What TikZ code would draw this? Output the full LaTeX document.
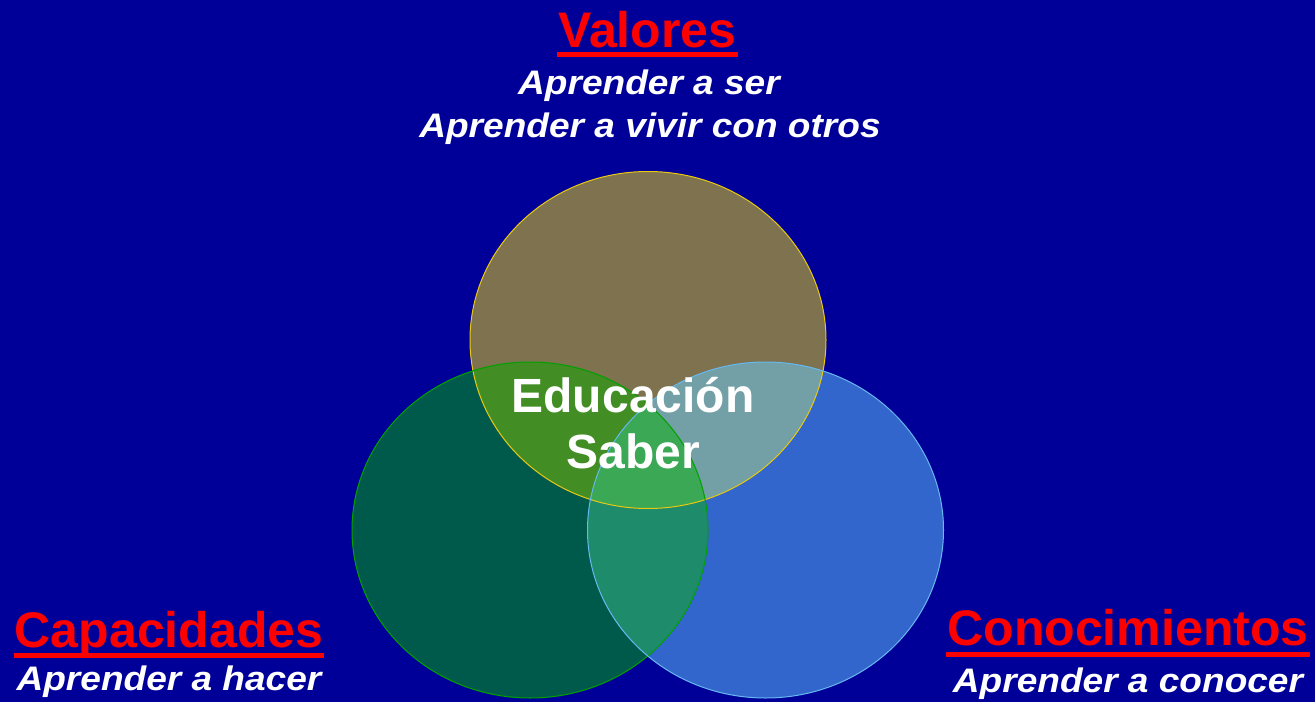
\documentclass[tikz,border=0pt]{standalone}
\usepackage{fontspec}
\setmainfont{Liberation Sans}
\definecolor{bg}{HTML}{000099}
\definecolor{cTop}{HTML}{7F734F}
\definecolor{cLeft}{HTML}{005A4C}
\definecolor{cRight}{HTML}{3366CC}
\definecolor{cTL}{HTML}{428E24}
\definecolor{cTR}{HTML}{72A0A6}
\definecolor{cLR}{HTML}{1E8C6A}
\definecolor{cAll}{HTML}{3AA855}
\definecolor{bTop}{HTML}{E8C810}
\definecolor{bLeft}{HTML}{00A000}
\definecolor{bRight}{HTML}{66B8F0}
\definecolor{hred}{HTML}{FF0000}
\tikzset{
  heading/.style={text=hred, font=\bfseries\fontsize{50}{60}\selectfont, anchor=base, inner xsep=1pt, inner ysep=0pt},
  sub/.style={text=white, font=\bfseries\itshape\fontsize{34}{40}\selectfont, anchor=base, inner sep=0pt},
  center/.style={text=white, font=\bfseries\fontsize{48}{58}\selectfont, anchor=base, inner sep=0pt},
  uline/.style={hred, line width=5pt},
}
\begin{document}
\begin{tikzpicture}[x=1pt,y=-1pt]
\fill[bg] (0,0) rectangle (1315,702);
\useasboundingbox (0,0) rectangle (1315,702);
\def\topC{(648,340) ellipse [x radius=178, y radius=168.5]}
\def\leftC{(530,530) ellipse [x radius=178, y radius=168]}
\def\rightC{(765.5,530) ellipse [x radius=178, y radius=168]}
% single regions
\fill[cTop] \topC;
\fill[cLeft] \leftC;
\fill[cRight] \rightC;
% pairwise overlaps
\begin{scope}\clip \topC; \fill[cTL] \leftC; \end{scope}
\begin{scope}\clip \topC; \fill[cTR] \rightC; \end{scope}
\begin{scope}\clip \leftC; \fill[cLR] \rightC; \end{scope}
\begin{scope}\clip \topC; \clip \leftC; \fill[cAll] \rightC; \end{scope}
% borders
\draw[bTop, line width=1pt] \topC;
\draw[bLeft, line width=1pt] \leftC;
\draw[bRight, line width=1pt] \rightC;
% texts
\node[heading] (val) at (647.5,47) {Valores};
\draw[uline] ([yshift=-7.5pt]val.base west) -- ([yshift=-7.5pt]val.base east);
\node[sub] (s1) at (649,94) {\scalebox{1.09}[1]{Aprender a ser}};
\node[sub] (s2) at (650,137) {\scalebox{1.09}[1]{Aprender a vivir con otros}};
\node[heading] (cap) at (169,647) {Capacidades};
\draw[uline] ([yshift=-8.5pt]cap.base west) -- ([yshift=-8.5pt]cap.base east);
\node[sub] (s3) at (169,690) {\scalebox{1.09}[1]{Aprender a hacer}};
\node[heading] (con) at (1128,645) {Conocimientos};
\draw[uline] ([yshift=-9pt]con.base west) -- ([yshift=-9pt]con.base east);
\node[sub] (s4) at (1128,692) {\scalebox{1.09}[1]{Aprender a conocer}};
\node[center] (edu) at (633,412) {Educación};
\node[center] (sab) at (633,468) {Saber};
\end{tikzpicture}
\end{document}
